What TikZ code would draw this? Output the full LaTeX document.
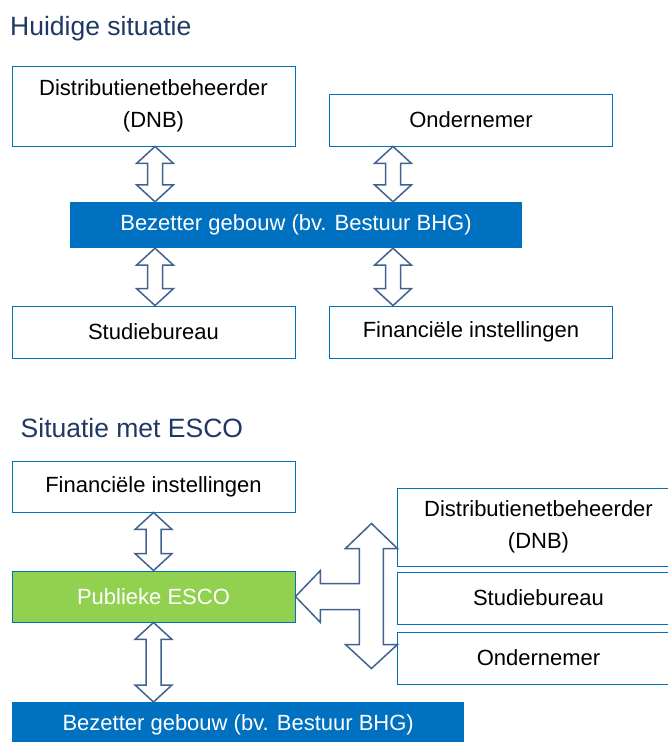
\documentclass[tikz,border=0pt]{standalone}
\usepackage{fontspec}
\setmainfont{Liberation Sans}
\usetikzlibrary{calc}
\definecolor{navy}{HTML}{1F3864}
\definecolor{azure}{HTML}{0070C0}
\definecolor{slate}{HTML}{41628F}
\definecolor{lime}{HTML}{92D050}

% hollow up/down block arrow between two anchors on one vertical
\newcommand{\duplex}[2]{%
  \draw[hollow] let \p1=(#1), \p2=(#2) in
    (\x1,\y1) -- (\x1-18.5pt,\y1-17pt) -- (\x1-7.5pt,\y1-17pt) -- (\x1-7.5pt,\y2+17pt)
    -- (\x1-18.5pt,\y2+17pt) -- (\x1,\y2) -- (\x1+18.5pt,\y2+17pt) -- (\x1+7.5pt,\y2+17pt)
    -- (\x1+7.5pt,\y1-17pt) -- (\x1+18.5pt,\y1-17pt) -- cycle;}

\begin{document}
\begin{tikzpicture}[x=1pt,y=-1pt,
  party/.style={draw=azure,line width=0.9pt,fill=white,minimum width=283pt,
                minimum height=52pt,align=center,inner sep=0pt,
                font=\fontsize{22}{32}\selectfont},
  occupant/.style={fill=azure,minimum width=452pt,minimum height=46pt,inner sep=0pt,
                   text=white,font=\fontsize{22}{31}\selectfont},
  esco/.style={party,fill=lime,text=white},
  heading/.style={anchor=base west,inner sep=0pt,text=navy,font=\fontsize{26.5}{30}\selectfont},
  hollow/.style={draw=slate,line width=1.5pt,fill=white,line join=miter}
]
\clip (0,0) rectangle (668,742);

% huidige situatie
\node[heading] (now) at (10,35) {Huidige situatie};
\node[party,minimum height=80pt] (dnb) at (153.5,106) {Distributienetbeheerder\\(DNB)};
\node[party] (ond) at (471,120) {Ondernemer};
\node[occupant] (bar) at (296,225) {Bezetter gebouw (bv. Bestuur BHG)};
\node[party] (stud) at (153.5,332) {Studiebureau};
\node[party] (fin) at (471,332) {Financiële instellingen};
\coordinate (colA) at (155,0);
\coordinate (colB) at (393,0);
\duplex{dnb.south -| colA}{bar.north -| colA}
\duplex{ond.south -| colB}{bar.north -| colB}
\duplex{bar.south -| colA}{stud.north -| colA}
\duplex{bar.south -| colB}{fin.north -| colB}

% situatie met ESCO
\node[heading] (then) at (20.5,437) {Situatie met ESCO};
\node[party,minimum height=51pt] (fin2) at (153.5,486.5) {Financiële instellingen};
\node[esco,minimum height=51pt] (pub) at (153.5,596.5) {Publieke ESCO};
\node[occupant,anchor=north west] (bar2) at (12,702) {Bezetter gebouw (bv. Bestuur BHG)};
\node[party,minimum height=78pt] (dnb2) at (538.5,527) {Distributienetbeheerder\\(DNB)};
\node[party] (stud2) at (538.5,598) {Studiebureau};
\node[party] (ond2) at (538.5,658) {Ondernemer};
\duplex{fin2.south}{pub.north}
\duplex{pub.south}{bar2.north -| pub.south}

% left/up/down block arrow towards the ESCO
\draw[hollow] (pub.east) -- +(25,-26) -- +(25,-13) -- +(64,-13) -- +(64,-48)
  -- +(50,-48) -- +(76,-73) -- +(102,-48) -- +(88,-48) -- +(88,48) -- +(102,48)
  -- +(76,72) -- +(50,48) -- +(64,48) -- +(64,13) -- +(25,13) -- +(25,26) -- cycle;
\end{tikzpicture}
\end{document}
